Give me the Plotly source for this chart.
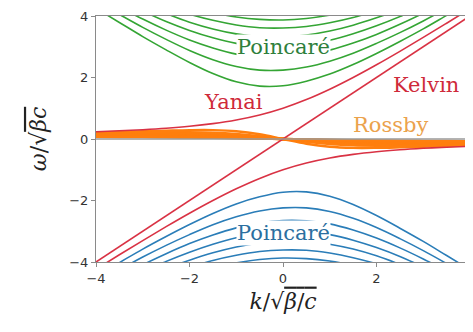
import plotly.graph_objects as go

# wavenumber samples (k / sqrt(beta/c))
k = [-4, -3.5, -3, -2.5, -2, -1.5, -1, -0.5, 0, 0.5, 1, 1.5, 2, 2.5, 3, 3.5, 4]

# Poincaré modes, upper (green) branch, n = 1..7
poincare_upper = [
    [4.25, 3.79, 3.33, 2.90, 2.49, 2.13, 1.86, 1.72, 1.73, 1.88, 2.11, 2.42, 2.78, 3.17, 3.58, 4.02, 4.46],
    [4.48, 4.05, 3.63, 3.24, 2.88, 2.58, 2.36, 2.24, 2.24, 2.34, 2.53, 2.79, 3.11, 3.46, 3.84, 4.25, 4.68],
    [4.71, 4.29, 3.90, 3.54, 3.22, 2.96, 2.76, 2.66, 2.65, 2.73, 2.89, 3.12, 3.40, 3.73, 4.09, 4.48, 4.88],
    [4.92, 4.53, 4.16, 3.82, 3.53, 3.29, 3.11, 3.01, 3.00, 3.07, 3.21, 3.42, 3.68, 3.98, 4.32, 4.69, 5.08],
    [5.12, 4.74, 4.40, 4.08, 3.80, 3.58, 3.42, 3.33, 3.32, 3.38, 3.51, 3.70, 3.94, 4.22, 4.54, 4.90, 5.27],
    [5.32, 4.95, 4.62, 4.32, 4.06, 3.86, 3.71, 3.62, 3.61, 3.66, 3.78, 3.95, 4.18, 4.45, 4.76, 5.09, 5.45],
    [5.50, 5.15, 4.84, 4.55, 4.31, 4.11, 3.97, 3.89, 3.87, 3.92, 4.03, 4.20, 4.41, 4.67, 4.96, 5.28, 5.63],
]

# Poincaré modes, lower (blue) branch, n = 1..7
poincare_lower = [
    [-4.46, -4.02, -3.58, -3.17, -2.78, -2.42, -2.11, -1.88, -1.73, -1.72, -1.86, -2.13, -2.49, -2.90, -3.33, -3.79, -4.25],
    [-4.68, -4.25, -3.84, -3.46, -3.11, -2.79, -2.53, -2.34, -2.24, -2.24, -2.36, -2.58, -2.88, -3.24, -3.63, -4.05, -4.48],
    [-4.88, -4.48, -4.09, -3.73, -3.40, -3.12, -2.89, -2.73, -2.65, -2.66, -2.76, -2.96, -3.22, -3.54, -3.90, -4.29, -4.71],
    [-5.08, -4.69, -4.32, -3.98, -3.68, -3.42, -3.21, -3.07, -3.00, -3.01, -3.11, -3.29, -3.53, -3.82, -4.16, -4.53, -4.92],
    [-5.27, -4.90, -4.54, -4.22, -3.94, -3.70, -3.51, -3.38, -3.32, -3.33, -3.42, -3.58, -3.80, -4.08, -4.40, -4.74, -5.12],
    [-5.45, -5.09, -4.76, -4.45, -4.18, -3.95, -3.78, -3.66, -3.61, -3.62, -3.71, -3.86, -4.06, -4.32, -4.62, -4.95, -5.32],
    [-5.63, -5.28, -4.96, -4.67, -4.41, -4.20, -4.03, -3.92, -3.87, -3.89, -3.97, -4.11, -4.31, -4.55, -4.84, -5.15, -5.50],
]

# Rossby modes (orange band)
rossby = [
    [0.211, 0.230, 0.251, 0.272, 0.289, 0.290, 0.254, 0.155, 0, -0.155, -0.254, -0.290, -0.289, -0.272, -0.251, -0.230, -0.211],
    [0.191, 0.203, 0.215, 0.223, 0.223, 0.208, 0.167, 0.095, 0, -0.095, -0.167, -0.208, -0.223, -0.223, -0.215, -0.203, -0.191],
    [0.174, 0.182, 0.188, 0.189, 0.182, 0.163, 0.125, 0.069, 0, -0.069, -0.125, -0.163, -0.182, -0.189, -0.188, -0.182, -0.174],
    [0.160, 0.165, 0.167, 0.164, 0.154, 0.134, 0.100, 0.054, 0, -0.054, -0.100, -0.134, -0.154, -0.164, -0.167, -0.165, -0.160],
    [0.148, 0.151, 0.150, 0.145, 0.134, 0.113, 0.083, 0.044, 0, -0.044, -0.083, -0.113, -0.134, -0.145, -0.150, -0.151, -0.148],
    [0.138, 0.139, 0.137, 0.130, 0.118, 0.098, 0.071, 0.038, 0, -0.038, -0.071, -0.098, -0.118, -0.130, -0.137, -0.139, -0.138],
    [0.129, 0.128, 0.125, 0.118, 0.105, 0.087, 0.063, 0.033, 0, -0.033, -0.063, -0.087, -0.105, -0.118, -0.125, -0.128, -0.129],
    [0.121, 0.120, 0.115, 0.108, 0.095, 0.078, 0.056, 0.029, 0, -0.029, -0.056, -0.078, -0.095, -0.108, -0.115, -0.120, -0.121],
    [0.108, 0.105, 0.100, 0.092, 0.080, 0.065, 0.045, 0.024, 0, -0.024, -0.045, -0.065, -0.080, -0.092, -0.100, -0.105, -0.108],
    [0.098, 0.094, 0.088, 0.080, 0.069, 0.055, 0.038, 0.020, 0, -0.020, -0.038, -0.055, -0.069, -0.080, -0.088, -0.094, -0.098],
    [0.085, 0.081, 0.075, 0.067, 0.057, 0.045, 0.031, 0.016, 0, -0.016, -0.031, -0.045, -0.057, -0.067, -0.075, -0.081, -0.085],
    [0.070, 0.066, 0.060, 0.053, 0.044, 0.035, 0.024, 0.012, 0, -0.012, -0.024, -0.035, -0.044, -0.053, -0.060, -0.066, -0.070],
]

# Yanai (mixed Rossby-gravity) wave, two branches
yanai_upper = [0.236, 0.266, 0.303, 0.351, 0.414, 0.500, 0.618, 0.781, 1.0, 1.281, 1.618, 2.0, 2.414, 2.851, 3.303, 3.766, 4.236]
yanai_lower = [-4.236, -3.766, -3.303, -2.851, -2.414, -2.0, -1.618, -1.281, -1.0, -0.781, -0.618, -0.5, -0.414, -0.351, -0.303, -0.266, -0.236]

# Kelvin wave
kelvin_k = [-4, 4]
kelvin_w = [-4, 4]

tick_vals = [-4, -2, 0, 2, 4]
tick_text = ["−4", "−2", "0", "2", "4"]

GREEN = "#34a534"
BLUE = "#2a7db8"
ORANGE = "#ff7f0e"
RED = "#d93244"

fig = go.Figure()

for w in poincare_upper:
    fig.add_trace(go.Scatter(x=k, y=w, mode="lines", line=dict(color=GREEN, width=1.6, shape="spline"),
                             showlegend=False, hoverinfo="skip"))
for w in poincare_lower:
    fig.add_trace(go.Scatter(x=k, y=w, mode="lines", line=dict(color=BLUE, width=1.6, shape="spline"),
                             showlegend=False, hoverinfo="skip"))
for w in rossby:
    fig.add_trace(go.Scatter(x=k, y=w, mode="lines", line=dict(color=ORANGE, width=2.4, shape="spline"),
                             showlegend=False, hoverinfo="skip"))
for w in (yanai_upper, yanai_lower):
    fig.add_trace(go.Scatter(x=k, y=w, mode="lines", line=dict(color=RED, width=1.6, shape="spline"),
                             showlegend=False, hoverinfo="skip"))
fig.add_trace(go.Scatter(x=kelvin_k, y=kelvin_w, mode="lines", line=dict(color=RED, width=1.6),
                         showlegend=False, hoverinfo="skip"))

fig.add_hline(y=0, line=dict(color="#9a9a9a", width=1.5))

SERIF = "DejaVu Serif"
labels = [
    ("Poincaré", 0, 3.0, "#2f7f3c", "white"),
    ("Poincaré", 0, -3.05, "#2b6fa0", "white"),
    ("Kelvin", 3.05, 1.75, "#cf2a3a", None),
    ("Yanai", -1.05, 1.2, "#cf2a3a", None),
    ("Rossby", 2.3, 0.45, "#eba24c", None),
]
for txt, x, y, col, bg in labels:
    fig.add_annotation(x=x, y=y, text=txt, showarrow=False,
                       font=dict(family=SERIF, size=21, color=col),
                       bgcolor=bg if bg else "rgba(0,0,0,0)", borderpad=0)

fig.update_layout(
    width=465, height=324,
    margin=dict(l=88, r=3, t=8, b=70),
    paper_bgcolor="white", plot_bgcolor="white",
    font=dict(family="DejaVu Sans", size=13, color="#333333"),
)
fig.update_xaxes(range=[-4, 4], tickvals=tick_vals, ticktext=tick_text, automargin=False,
                 ticklabeloverflow="allow",
                 showgrid=False, zeroline=False, showline=True, mirror=True, linecolor="#8a8a8a", linewidth=1.2,
                 ticks="outside", ticklen=4, tickcolor="#8a8a8a",
                 title=dict(text="<i>k</i>/√<span style='text-decoration:overline'><i>β</i>/<i>c</i></span>",
                            font=dict(family=SERIF, size=22, color="#222222"), standoff=8))
fig.update_yaxes(range=[-4, 4], tickvals=tick_vals, ticktext=tick_text, automargin=False,
                 showgrid=False, zeroline=False, showline=True, mirror=True, linecolor="#8a8a8a", linewidth=1.2,
                 ticks="outside", ticklen=4, tickcolor="#8a8a8a",
                 title=dict(text="<i>ω</i>/√<span style='text-decoration:overline'><i>βc</i></span>",
                            font=dict(family=SERIF, size=22, color="#222222"), standoff=16))

fig.write_html("out.html")
